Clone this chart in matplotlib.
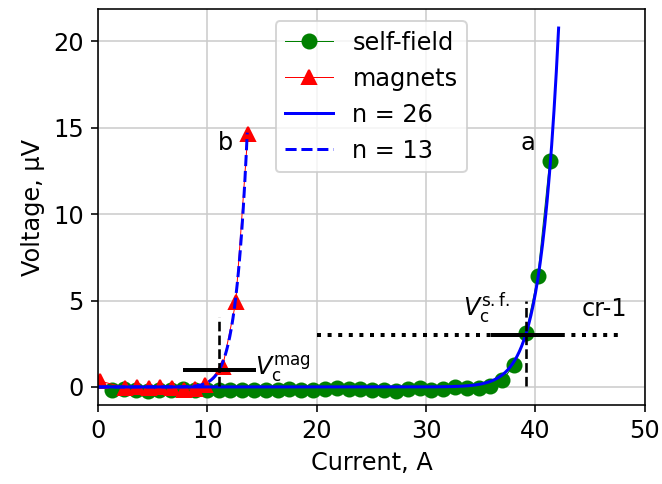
import numpy as np
import matplotlib
matplotlib.use("Agg")
import matplotlib.pyplot as plt

# Measured V(I) curves
sf_current = [1.30, 2.38, 3.46, 4.54, 5.62, 6.71, 7.79, 8.87, 9.95, 11.03,
              12.11, 13.19, 14.27, 15.35, 16.43, 17.51, 18.59, 19.68, 20.76,
              21.84, 22.92, 24.00, 25.08, 26.16, 27.24, 28.32, 29.41, 30.49,
              31.57, 32.65, 33.73, 34.81, 35.89, 36.97, 38.05, 39.14, 40.22,
              41.30]
sf_voltage = [-0.15, -0.12, -0.18, -0.25, -0.15, -0.20, -0.12, -0.20, -0.15,
              -0.15, -0.18, -0.15, -0.18, -0.15, -0.15, -0.12, -0.15, -0.18,
              -0.12, -0.05, -0.10, -0.12, -0.15, -0.18, -0.22, -0.12, -0.06,
              -0.15, -0.10, -0.02, -0.06, -0.05, 0.08, 0.38, 1.28, 3.10, 6.40,
              13.05]

mag_current = [0.15, 2.5, 3.6, 4.7, 5.7, 6.8, 7.9, 8.9, 9.8, 11.4, 12.6, 13.7]
mag_voltage = [0.35, -0.05, 0.0, -0.05, 0.0, -0.05, -0.15, -0.10, 0.10,
               1.16, 4.9, 14.65]

# Power-law fits V = Vc (I / Ic)^n
sf_n, sf_ic, sf_vc, sf_imax = 26, 39.1, 3.0, 42.12
mag_n, mag_ic, mag_vc, mag_imax = 13, 11.1, 1.0, 13.65

plt.rcParams.update({
    "font.family": ["DejaVu Sans"],
    "font.size": 12,
})

fig = plt.figure(figsize=(662 / 144, 484 / 144), dpi=144)
ax = fig.add_axes([0.148, 0.163, 0.826, 0.818])
ax.grid(True, color="#cccccc", linewidth=0.8)
ax.set_axisbelow(True)

ax.plot(sf_current, sf_voltage, color="green", marker="o", markersize=7,
        linewidth=0.5, label="self-field")
ax.plot(mag_current, mag_voltage, color="red", marker="^", markersize=7,
        linewidth=0.5, label="magnets")

i_sf = np.linspace(0, sf_imax, 400)
ax.plot(i_sf, sf_vc * (i_sf / sf_ic) ** sf_n, color="blue", linewidth=1.5,
        label=f"n = {sf_n}")
i_mag = np.linspace(0, mag_imax, 300)
ax.plot(i_mag, mag_vc * (i_mag / mag_ic) ** mag_n, color="blue",
        linestyle="--", linewidth=1.5, label=f"n = {mag_n}")

# Critical-current criteria
ax.plot([20, 48], [sf_vc, sf_vc], color="black", linestyle=":", linewidth=2)
ax.plot([36.1, 42.2], [sf_vc, sf_vc], color="black", linewidth=2)
ax.plot([sf_ic, sf_ic], [0.05, 5.0], color="black", linestyle="--",
        linewidth=1.3)
ax.plot([8.0, 14.3], [mag_vc, mag_vc], color="black", linewidth=2)
ax.plot([mag_ic, mag_ic], [0.05, 4.05], color="black", linestyle="--",
        linewidth=1.3)

ax.text(44.2, 4.5, "cr-1", ha="left", va="center")
ax.text(37.7, 3.55, r"$V_\mathrm{c}^\mathrm{s.f.}$", ha="right", va="bottom")
ax.text(14.4, 1.05, r"$V_\mathrm{c}^\mathrm{mag}$", ha="left", va="center")
ax.text(39.3, 14.1, "a", ha="center", va="center")
ax.text(11.7, 14.1, "b", ha="center", va="center")

ax.set_xlim(0, 50)
ax.set_ylim(-1.05, 21.85)
ax.set_xticks([0, 10, 20, 30, 40, 50])
ax.set_yticks([0, 5, 10, 15, 20])
ax.set_xlabel("Current, A")
ax.set_ylabel("Voltage, μV")
ax.legend(loc="upper center")

fig.savefig("out.png", dpi=144)
